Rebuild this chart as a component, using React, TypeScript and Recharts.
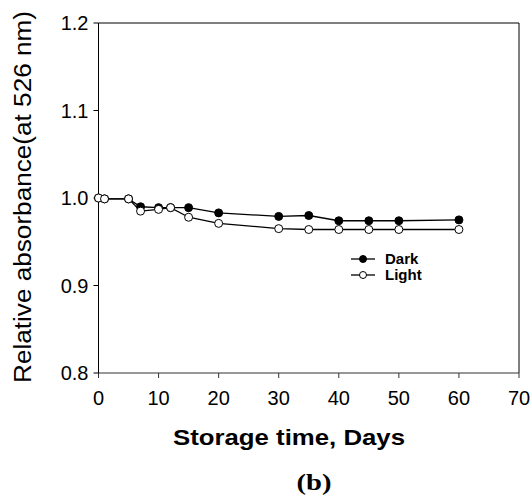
import React from "react";
import {
  LineChart,
  Line,
  XAxis,
  YAxis,
  Legend,
  ReferenceLine,
} from "recharts";

const days = [0, 1, 5, 7, 10, 12, 15, 20, 30, 35, 40, 45, 50, 60];
const dark = [1.0, 0.999, 0.999, 0.99, 0.989, 0.989, 0.989, 0.983, 0.979, 0.98, 0.974, 0.974, 0.974, 0.975];
const light = [1.0, 0.999, 0.999, 0.985, 0.987, 0.989, 0.978, 0.971, 0.965, 0.964, 0.964, 0.964, 0.964, 0.964];
const xTicks = [0, 10, 20, 30, 40, 50, 60, 70];
const yTicks = [0.8, 0.9, 1.0, 1.1, 1.2];

const chartData = days.map((d, i) => ({ day: d, dark: dark[i], light: light[i] }));

const font = "'Liberation Sans', Arial, sans-serif";

const seriesInfo = [
  { name: "Dark", fill: "#000" },
  { name: "Light", fill: "#fff" },
];

function LegendBox() {
  return (
    <div style={{ fontFamily: font, fontWeight: "bold", fontSize: 15, color: "#000" }}>
      {seriesInfo.map((s) => (
        <div key={s.name} style={{ display: "flex", alignItems: "center", height: 16 }}>
          <svg width={34} height={12} style={{ display: "block" }}>
            <line x1={0} x2={24} y1={6} y2={6} stroke="#000" strokeWidth={1.3} />
            <circle cx={12} cy={6} r={3.5} fill={s.fill} stroke="#000" strokeWidth={1} />
          </svg>
          <span style={{ lineHeight: "16px" }}>{s.name}</span>
        </div>
      ))}
    </div>
  );
}

export default function App() {
  return (
    <div style={{ position: "absolute", left: 0, top: 0, background: "#fff" }}>
      <LineChart
        width={531}
        height={495}
        data={chartData}
        margin={{ top: 23, right: 12, bottom: 0, left: 0 }}
      >
        <XAxis
          dataKey="day"
          type="number"
          domain={[0, 70]}
          ticks={xTicks}
          height={122}
          tickSize={5}
          tickMargin={13}
          stroke="#333"
          tick={{ fill: "#000", fontSize: 20, fontFamily: font }}
          label={() => (
            <g>
              <text
                x={289}
                y={445}
                textAnchor="middle"
                fontFamily={font}
                fontWeight="bold"
                fontSize={22}
                textLength={232}
                lengthAdjust="spacingAndGlyphs"
                fill="#000"
              >
                Storage time, Days
              </text>
              <text
                x={314}
                y={490}
                textAnchor="middle"
                fontFamily="'Liberation Serif', 'Times New Roman', serif"
                fontWeight="bold"
                fontSize={24}
                textLength={35}
                lengthAdjust="spacingAndGlyphs"
                fill="#000"
              >
                (b)
              </text>
            </g>
          )}
        />
        <YAxis
          type="number"
          domain={[0.8, 1.2]}
          ticks={yTicks}
          width={98.5}
          tickSize={5}
          tickMargin={5}
          stroke="#000"
          tickFormatter={(v: number) => v.toFixed(1)}
          tick={{ fill: "#000", fontSize: 20, fontFamily: font }}
          label={() => (
            <text
              x={31}
              y={197}
              transform="rotate(-90, 31, 197)"
              textAnchor="middle"
              fontFamily={font}
              fontSize={23}
              textLength={372}
              lengthAdjust="spacingAndGlyphs"
              fill="#000"
            >
              Relative absorbance(at 526 nm)
            </text>
          )}
        />
        <ReferenceLine y={1.2} stroke="#000" strokeWidth={1} ifOverflow="visible" />
        <ReferenceLine x={70} stroke="#000" strokeWidth={1} ifOverflow="visible" />
        <Legend
          layout="vertical"
          align="center"
          verticalAlign="middle"
          content={<LegendBox />}
          wrapperStyle={{ left: 351, top: 251, width: "auto", height: "auto" }}
        />
        <Line
          dataKey="dark"
          name="Dark"
          stroke="#000"
          strokeWidth={1.3}
          dot={{ r: 4, fill: "#000", stroke: "#000", strokeWidth: 1 }}
          isAnimationActive={false}
        />
        <Line
          dataKey="light"
          name="Light"
          stroke="#000"
          strokeWidth={1.3}
          dot={{ r: 4, fill: "#fff", stroke: "#000", strokeWidth: 1 }}
          isAnimationActive={false}
        />
      </LineChart>
    </div>
  );
}
